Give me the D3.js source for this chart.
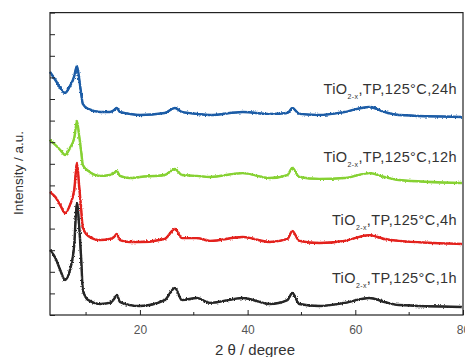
<!DOCTYPE html>
<html>
<head>
<meta charset="utf-8">
<script src="https://cdn.jsdelivr.net/npm/d3@7"></script>
<style>
  html, body { margin: 0; padding: 0; background: #fff; }
  svg { display: block; font-family: "Liberation Sans", Arial, sans-serif; }
</style>
</head>
<body>
<svg id="chart"></svg>
<script>
const width = 465;
const height = 357;

// 2theta positions (degree) shared by every pattern
const twoTheta = [3.3, 4.3, 5.2, 6.1, 7.0, 7.8, 8.1, 8.3, 8.7, 9.1, 9.4, 10.4, 12.6, 14.4, 15.2, 15.7, 16.3, 18.1, 20, 24.6, 26.5, 27.8, 30.6, 33, 39.1, 44.1, 47.4, 48.3, 49.6, 53.3, 58, 62.6, 65.4, 68.1, 79.8];

// intensities (offset, a.u.)
const h1 = [3.01, 2.64, 2.08, 1.62, 2.08, 3.24, 4.63, 5.19, 4.17, 2.55, 1.16, 0.69, 0.51, 0.56, 0.74, 0.93, 0.60, 0.46, 0.42, 0.69, 1.25, 0.69, 0.79, 0.56, 0.79, 0.51, 0.69, 1.02, 0.51, 0.42, 0.56, 0.79, 0.60, 0.46, 0.37];
const h4 = [5.69, 5.46, 5.09, 4.72, 5.09, 5.79, 6.62, 7.04, 6.02, 4.86, 4.03, 3.66, 3.47, 3.52, 3.61, 3.75, 3.47, 3.38, 3.38, 3.52, 3.98, 3.56, 3.56, 3.43, 3.61, 3.38, 3.52, 3.89, 3.43, 3.33, 3.43, 3.70, 3.52, 3.43, 3.29];
const h12 = [8.10, 7.87, 7.64, 7.41, 7.73, 8.19, 8.70, 8.98, 8.33, 7.55, 6.94, 6.67, 6.44, 6.48, 6.57, 6.67, 6.44, 6.34, 6.39, 6.48, 6.76, 6.48, 6.44, 6.39, 6.57, 6.34, 6.48, 6.81, 6.39, 6.30, 6.34, 6.57, 6.39, 6.25, 6.11];
const h24 = [11.25, 10.88, 10.51, 10.28, 10.60, 11.06, 11.39, 11.53, 10.97, 10.23, 9.77, 9.54, 9.40, 9.40, 9.49, 9.58, 9.40, 9.31, 9.26, 9.35, 9.58, 9.40, 9.31, 9.26, 9.40, 9.31, 9.35, 9.58, 9.31, 9.26, 9.40, 9.63, 9.40, 9.26, 9.17];

const seriesNames = ['1h', '4h', '12h', '24h'];
const seriesValues = [h1, h4, h12, h24];
const seriesColors = ['#262626', '#e3201e', '#86d133', '#1a5ba6'];
const labelY = [1.48, 4.17, 7.08, 10.23];   // label baselines in intensity units

const xTicks = [20, 40, 60, 80];
const xMinor = [10, 30, 50, 70];

const margin = { left: 50, right: 2, top: 12.6, bottom: 42 };

const svg = d3.select('#chart')
  .attr('width', width)
  .attr('height', height);

const x = d3.scaleLinear().domain([3.3, 80]).range([margin.left, width - margin.right]);
const y = d3.scaleLinear().domain([0, 14]).range([height - margin.bottom, margin.top]);

// noisy look of the raw scans
const defs = svg.append('defs');
const filt = defs.append('filter').attr('id', 'noise')
  .attr('x', '-5%').attr('y', '-20%').attr('width', '110%').attr('height', '140%');
filt.append('feTurbulence').attr('type', 'fractalNoise')
  .attr('baseFrequency', '1.2 0.5').attr('numOctaves', 1).attr('seed', 3).attr('result', 't');
filt.append('feDisplacementMap').attr('in', 'SourceGraphic').attr('in2', 't')
  .attr('scale', 3).attr('xChannelSelector', 'R').attr('yChannelSelector', 'G');

const line = d3.line()
  .x((d, i) => x(twoTheta[i]))
  .y(d => y(d))
  .curve(d3.curveMonotoneX);

const curves = svg.append('g');
curves.selectAll('path.base')
  .data(seriesValues)
  .enter().append('path')
  .attr('class', 'base')
  .attr('d', d => line(d))
  .attr('fill', 'none')
  .attr('stroke', (_, i) => seriesColors[i])
  .attr('stroke-width', 1.6);
curves.selectAll('path.jitter')
  .data(seriesValues)
  .enter().append('path')
  .attr('class', 'jitter')
  .attr('d', d => line(d))
  .attr('fill', 'none')
  .attr('stroke', (_, i) => seriesColors[i])
  .attr('stroke-width', 2.4)
  .attr('filter', 'url(#noise)');

// frame
svg.append('rect')
  .attr('x', x.range()[0]).attr('y', y.range()[1])
  .attr('width', x.range()[1] - x.range()[0])
  .attr('height', y.range()[0] - y.range()[1])
  .attr('fill', 'none').attr('stroke', '#222').attr('stroke-width', 1.2);

// x axis, ticks pointing in
const xAxis = svg.append('g')
  .attr('transform', `translate(0,${y.range()[0]})`)
  .call(d3.axisBottom(x).tickValues(xTicks).tickSizeInner(-5).tickSizeOuter(0).tickPadding(10));
xAxis.select('.domain').remove();
xAxis.selectAll('line').attr('stroke', '#222');
xAxis.selectAll('text').attr('fill', '#555').attr('font-size', 12)
  .attr('font-family', '"Liberation Sans", Arial, sans-serif');

svg.append('g')
  .selectAll('line')
  .data(xMinor)
  .enter().append('line')
  .attr('x1', d => x(d)).attr('x2', d => x(d))
  .attr('y1', y.range()[0]).attr('y2', y.range()[0] - 3)
  .attr('stroke', '#222');

// y axis, unlabelled ticks pointing in
const yAxis = svg.append('g')
  .attr('transform', `translate(${x.range()[0]},0)`)
  .call(d3.axisLeft(y).ticks(14).tickSizeInner(-5).tickSizeOuter(0).tickFormat(''));
yAxis.select('.domain').remove();
yAxis.selectAll('line').attr('stroke', '#222');

// series labels
const labels = svg.append('g')
  .selectAll('text')
  .data(seriesNames)
  .enter().append('text')
  .attr('x', 457)
  .attr('y', (_, i) => y(labelY[i]))
  .attr('text-anchor', 'end')
  .attr('font-size', 14.5)
  .attr('letter-spacing', 0.4)
  .attr('fill', '#333');
labels.append('tspan').text('TiO');
labels.append('tspan').attr('font-size', 7).attr('dy', 5).text('2-x');
labels.append('tspan').attr('dy', -5).text(d => `,TP,125°C,${d}`);

// axis titles
svg.append('text')
  .attr('x', 255).attr('y', 355)
  .attr('text-anchor', 'middle')
  .attr('font-size', 15)
  .attr('fill', '#333')
  .text('2 θ / degree');

svg.append('text')
  .attr('transform', 'translate(23,173) rotate(-90)')
  .attr('text-anchor', 'middle')
  .attr('font-size', 13.5)
  .attr('fill', '#333')
  .text('Intensity / a.u.');
</script>
</body>
</html>
